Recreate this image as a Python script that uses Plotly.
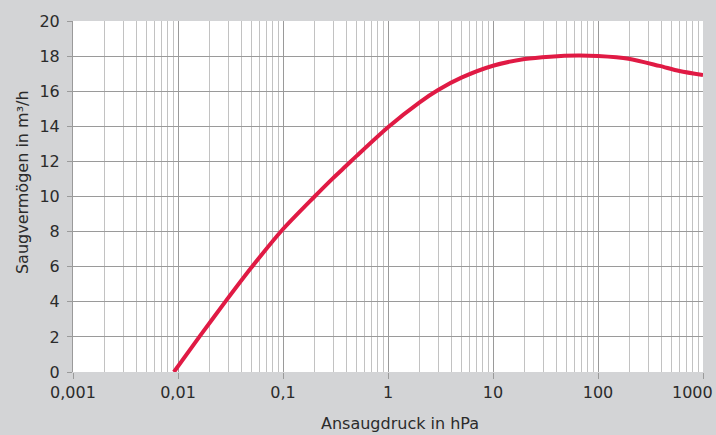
import plotly.graph_objects as go

pressure_hpa = [0.00914, 0.0164, 0.0286, 0.050, 0.0969, 0.2, 0.3, 0.4, 0.5, 1,
                2, 3, 5, 10, 20, 35, 65, 100, 195, 385, 596, 1000]
speed_m3h = [0, 2.1, 4.05, 5.95, 8.05, 10.0, 11.05, 11.75, 12.3, 13.95,
             15.37, 16.07, 16.77, 17.45, 17.83, 17.97, 18.03, 18.0, 17.85, 17.44, 17.15, 16.92]

x_tickvals = [0.001, 0.01, 0.1, 1, 10, 100, 1000]
x_ticktext = ["0,001", "0,01", "0,1", "1", "10", "100", ""]
last_tick_label = "1000"
y_tickvals = list(range(0, 21, 2))

bg = "#d3d4d6"
major = "#9a9a9a"
minorc = "#c2c2c2"
txt = "#2b2b2b"
fnt = "DejaVu Sans, Liberation Sans, sans-serif"

fig = go.Figure()
fig.add_trace(go.Scatter(
    x=pressure_hpa, y=speed_m3h, mode="lines",
    line=dict(color="#e01a44", width=4, shape="spline", smoothing=0.8),
    hoverinfo="skip", showlegend=False,
))

fig.update_layout(
    width=716, height=435,
    paper_bgcolor=bg, plot_bgcolor="white",
    margin=dict(l=73, r=13, t=21, b=63),
    font=dict(family=fnt, size=16, color=txt),
    annotations=[
        dict(text="Ansaugdruck in hPa", xref="paper", yref="paper",
             x=0.519, y=-0.148, showarrow=False, xanchor="center", yanchor="middle",
             font=dict(family=fnt, size=16, color=txt)),
        dict(text="Saugvermögen in m³/h", xref="paper", yref="paper",
             x=-0.081, y=0.541, showarrow=False, xanchor="center", yanchor="middle",
             textangle=-90, font=dict(family=fnt, size=16, color=txt)),
        dict(text=last_tick_label, xref="x", yref="paper",
             x=3, y=-0.058, showarrow=False, xanchor="right", yanchor="middle",
             xshift=12, font=dict(family=fnt, size=16, color=txt)),
    ],
)
fig.update_xaxes(
    type="log", range=[-3, 3.00001],
    tickvals=x_tickvals, ticktext=x_ticktext,
    showgrid=True, gridcolor=major, gridwidth=1,
    ticks="outside", ticklen=6, tickcolor=major,
    showline=False, zeroline=False,
    minor=dict(dtick="D1", showgrid=True, gridcolor=minorc, gridwidth=1, ticks=""),
    tickfont=dict(family=fnt, size=16, color=txt),
)
fig.update_yaxes(
    range=[0, 20], tickvals=y_tickvals,
    showgrid=True, gridcolor=major, gridwidth=1,
    ticks="outside", ticklen=5, tickcolor=major,
    ticklabelstandoff=4,
    showline=True, linecolor=major, linewidth=1, mirror=False,
    zeroline=False,
    tickfont=dict(family=fnt, size=16, color=txt),
)

fig.write_html(
    "out.html",
    config={"displayModeBar": False, "staticPlot": True},
    post_script="document.body.style.margin='0';document.body.style.overflow='hidden';"
                "document.body.style.background='" + bg + "';",
)
